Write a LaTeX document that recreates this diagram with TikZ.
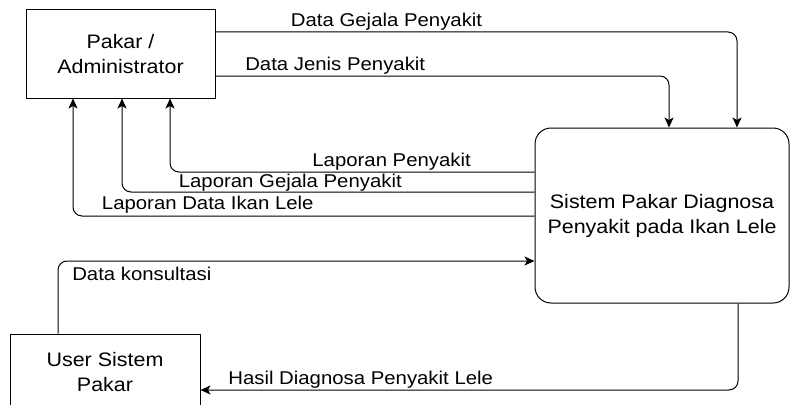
\documentclass[tikz,border=0pt]{standalone}
\usepackage{fontspec}
\setmainfont{Liberation Sans}[FakeStretch=1.1]
\usetikzlibrary{arrows.meta}

\tikzset{
  entity/.style={draw, line width=1pt, align=center,
    font=\fontsize{19.5}{25}\selectfont},
  proses/.style={entity, rounded corners=16pt},
  flow/.style={line width=1pt, rounded corners=9pt,
    -{Stealth[length=10pt,width=9pt,inset=2.5pt]}},
  lbl/.style={font=\fontsize{18.5}{22}\selectfont, inner sep=1.5pt}
}

\begin{document}
\begin{tikzpicture}[x=1pt, y=-1pt]
    \useasboundingbox (0,0) rectangle (791,404);

    % --- entitas dan proses ---
    \node[entity, minimum width=189pt, minimum height=88pt] (pakar) at (120.5,54) {Pakar /\\Administrator};
    \node[proses, minimum width=254pt, minimum height=175pt] (sistem) at (662,215.5) {Sistem Pakar Diagnosa\\Penyakit pada Ikan Lele};
    \node[entity, minimum width=190pt, minimum height=76pt] (user) at (105,372) {User Sistem\\Pakar};

    % --- aliran data dari pakar ---
    \draw[flow] ([yshift=22pt]pakar.east) -| ([xshift=75pt]sistem.north)
        node[lbl, above, pos=0.164] {Data Gejala Penyakit};
    \draw[flow] ([yshift=-22pt]pakar.east) -| ([xshift=7pt]sistem.north)
        node[lbl, above, pos=0.132] {Data Jenis Penyakit};

    % --- laporan ke pakar ---
    \draw[flow] ([yshift=43.5pt]sistem.west) -| ([xshift=49.5pt]pakar.south)
        node[lbl, above, pos=0.196] {Laporan Penyakit};
    \draw[flow] ([yshift=23.5pt]sistem.west) -| ([xshift=1.5pt]pakar.south)
        node[lbl, above, inner sep=0.5pt, pos=0.296] {Laporan Gejala Penyakit};
    \draw[flow] ([yshift=-0.5pt]sistem.west) -| ([xshift=-47.5pt]pakar.south)
        node[lbl, above, inner sep=2.5pt, pos=0.354] {Laporan Data Ikan Lele};

    % --- aliran data user ---
    \draw[flow] ([xshift=-47pt]user.north) |- ([yshift=-45.5pt]sistem.west)
        node[lbl, below=4pt, pos=0.588] {Data konsultasi};
    \draw[flow] ([xshift=76pt]sistem.south) |- ([yshift=-18pt]user.east)
        node[lbl, above, pos=0.851] {Hasil Diagnosa Penyakit Lele};
\end{tikzpicture}
\end{document}
